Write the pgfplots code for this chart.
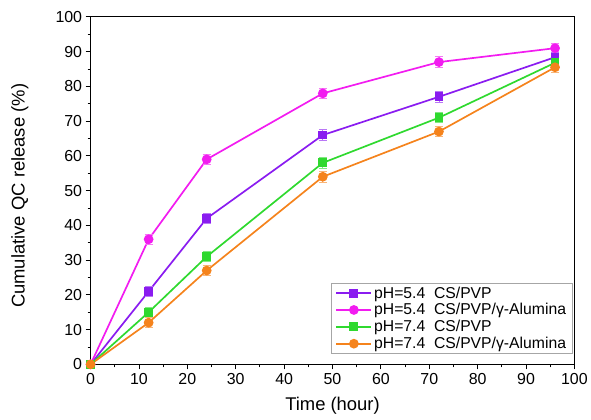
\documentclass[border=0pt]{standalone}
\usepackage{fontspec}
\setmainfont{Liberation Sans}
\usepackage{pgfplots}
\pgfplotsset{compat=1.18}

\definecolor{cpur}{HTML}{8A1CF0}
\definecolor{cmag}{HTML}{F21CF0}
\definecolor{cgrn}{HTML}{2FD92F}
\definecolor{cora}{HTML}{F5831C}

\begin{document}
\begin{tikzpicture}[x=1pt,y=1pt]
\begin{axis}[
    name=ax, scale only axis, width=486pt, height=349pt,
    xmin=0, xmax=100, ymin=0, ymax=100,
    xtick={0,10,...,100}, ytick={0,10,...,100},
    minor x tick num=1, minor y tick num=1,
    axis x line*=bottom, axis y line*=left,
    tick align=outside, major tick length=5pt, minor tick length=3pt,
    tick style={black, line width=0.9pt},
    axis line style={line width=1.1pt},
    every axis plot/.append style={line width=1.7pt},
    ticklabel style={font=\fontsize{16}{16}\selectfont},
    xticklabel style={yshift=-1pt},
    /pgf/number format/assume math mode=true,
    xlabel={Time (hour)}, ylabel={Cumulative QC release (\%)},
    label style={font=\fontsize{18.5}{18.5}\selectfont},
    xlabel style={at={(axis description cs:0.5,-0.12)}, anchor=center},
    ylabel style={at={(axis description cs:-0.146,0.485)}, anchor=center, rotate=0},
    legend style={at={(0.996,0.031)}, anchor=south east, draw=gray!70, line width=0.9pt,
        font=\fontsize{15.8}{17}\selectfont, inner xsep=4pt, inner ysep=1pt, row sep=0pt},
    legend cell align=left,
    legend image code/.code={\draw[#1, line width=1.7pt] (0pt,0pt) -- (35pt,0pt); \draw[#1, only marks] plot coordinates {(17.5pt,0pt)};},
    error bars/y dir=both, error bars/y explicit,
    error bars/error mark options={rotate=90, mark size=4pt, line width=0.8pt},
]
\addplot+[cpur, mark=square*, mark size=3.6pt, mark options={solid, fill=cpur},
    error bars/error bar style={cpur!60, line width=0.8pt}]
    coordinates {(0,0) +- (0,0.5) (12,21) +- (0,1.5) (24,42) +- (0,1.5) (48,66) +- (0,1.5) (72,77) +- (0,1.5) (96,88.4) +- (0,1.5)};
\addplot+[cmag, mark=*, mark size=4pt, mark options={solid, fill=cmag},
    error bars/error bar style={cmag!60, line width=0.8pt}]
    coordinates {(0,0) +- (0,0.5) (12,36) +- (0,1.5) (24,59) +- (0,1.5) (48,78) +- (0,1.5) (72,87) +- (0,1.5) (96,91) +- (0,1.5)};
\addplot+[cgrn, mark=square*, mark size=3.6pt, mark options={solid, fill=cgrn},
    error bars/error bar style={cgrn!60, line width=0.8pt}]
    coordinates {(0,0) +- (0,0.5) (12,15) +- (0,1.5) (24,31) +- (0,1.5) (48,58) +- (0,1.5) (72,71) +- (0,1.5) (96,86.8) +- (0,1.5)};
\addplot+[cora, mark=*, mark size=4pt, mark options={solid, fill=cora},
    error bars/error bar style={cora!60, line width=0.8pt}]
    coordinates {(0,0) +- (0,0.5) (12,12) +- (0,1.5) (24,27) +- (0,1.5) (48,54) +- (0,1.5) (72,67) +- (0,1.5) (96,85.5) +- (0,1.5)};
\legend{pH=5.4\ \ CS/PVP, pH=5.4\ \ CS/PVP/γ-Alumina, pH=7.4\ \ CS/PVP, pH=7.4\ \ CS/PVP/γ-Alumina}
\end{axis}
\draw[line width=1.1pt] (ax.south east) -- (ax.north east) -- (ax.north west);
\path (ax.south west) ++(-91,-55) coordinate (bl);
\path (ax.north east) ++(14,17) coordinate (tr);
\useasboundingbox (bl) rectangle (tr);
\end{tikzpicture}
\end{document}
